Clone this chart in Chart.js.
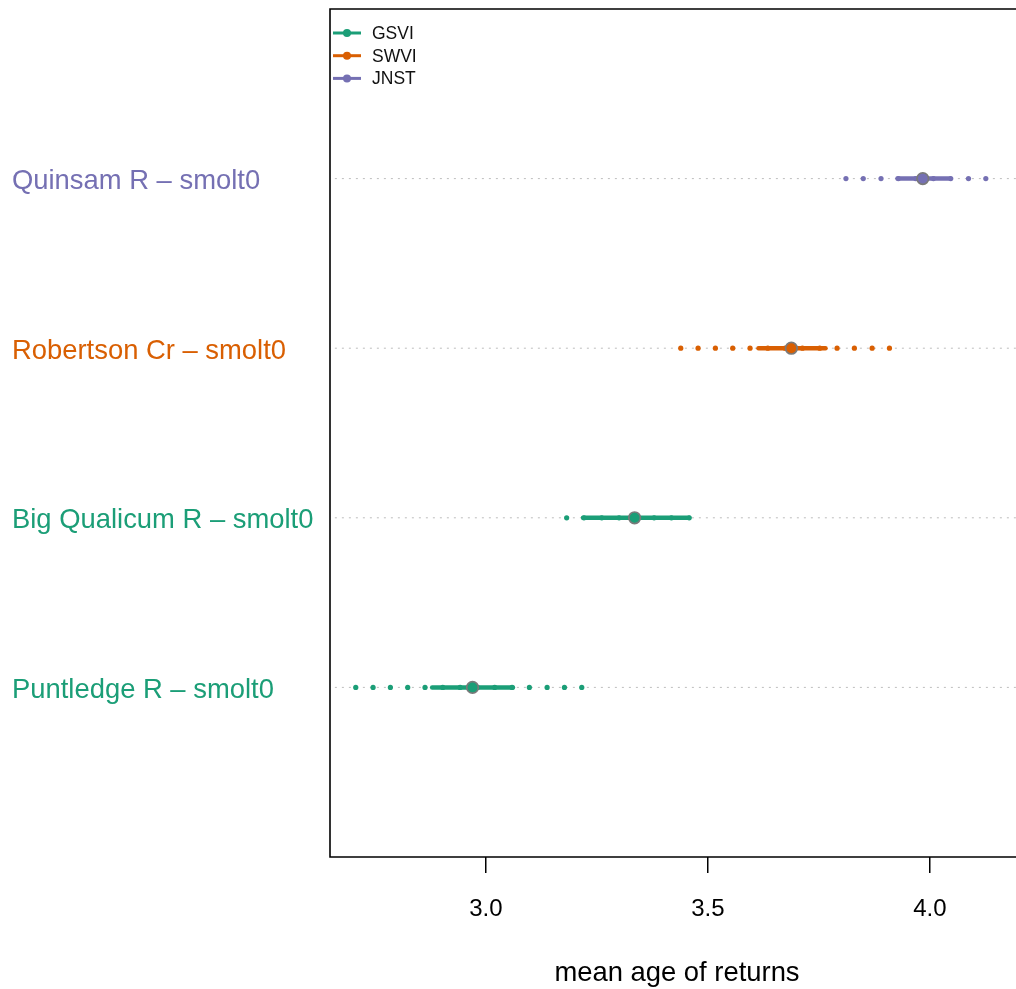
<!DOCTYPE html>
<html><head><meta charset="utf-8">
<script src="https://cdn.jsdelivr.net/npm/chart.js@4.4.1/dist/chart.umd.min.js"></script>
<style>html,body{margin:0;padding:0;background:#fff;overflow:hidden}#wrap{width:1016px;height:989px;position:relative;overflow:hidden}canvas{display:block}</style>
</head><body><div id="wrap"><canvas id="c" width="1024" height="989"></canvas></div>
<script>
// ---- data ----
const categories = ["Puntledge R \u2013 smolt0", "Big Qualicum R \u2013 smolt0", "Robertson Cr \u2013 smolt0", "Quinsam R \u2013 smolt0"];
const categoryRegion = ["GSVI", "GSVI", "SWVI", "JNST"];
const regionNames = ["GSVI", "SWVI", "JNST"];
const regionColors = ["#1B9E77", "#D95F02", "#7570B3"];
const meanAge = [2.970, 3.335, 3.688, 3.984];
const intervalLow = [2.879, 3.219, 3.614, 3.927];
const intervalHigh = [3.061, 3.458, 3.765, 4.045];
const quantilesPuntledge = [2.707, 2.746, 2.785, 2.824, 2.863, 2.903, 2.942, 2.981, 3.020, 3.059, 3.098, 3.138, 3.177, 3.216];
const quantilesBigQualicum = [3.182, 3.221, 3.261, 3.300, 3.339, 3.379, 3.418, 3.458];
const quantilesRobertson = [3.439, 3.478, 3.517, 3.556, 3.595, 3.635, 3.674, 3.713, 3.752, 3.791, 3.830, 3.870, 3.909];
const quantilesQuinsam = [3.811, 3.850, 3.890, 3.929, 3.968, 4.008, 4.047, 4.087, 4.126];
const xTicks = [3.0, 3.5, 4.0];
const xMin = 2.649, xMax = 4.212;
const guideStart = 2.66;
const xTitle = "mean age of returns";

const quantiles = [quantilesPuntledge, quantilesBigQualicum, quantilesRobertson, quantilesQuinsam];
const FAMILY = "'Liberation Sans', Arial, Helvetica, sans-serif";
const colorOf = i => regionColors[regionNames.indexOf(categoryRegion[i])];

const datasets = [];
categories.forEach((cat, i) => {
  const row = i + 1;
  const col = colorOf(i);
  datasets.push({ label: cat + " guide", data: [{x: guideStart, y: row}, {x: xMax, y: row}], showLine: true,
    borderColor: "#bdbdbd", borderWidth: 1, borderDash: [2, 5], pointRadius: 0, order: 10 });
  datasets.push({ label: cat + " quantiles", data: quantiles[i].map(v => ({x: v, y: row})),
    pointRadius: 2.6, backgroundColor: col, borderWidth: 0, order: 3 });
  datasets.push({ label: cat + " interval", data: [{x: intervalLow[i], y: row}, {x: intervalHigh[i], y: row}], showLine: true,
    borderColor: col, borderWidth: 4.5, borderCapStyle: "round", pointRadius: 0, order: 2 });
  datasets.push({ label: cat + " mean", data: [{x: meanAge[i], y: row}],
    pointRadius: 5.8, backgroundColor: col, borderColor: "#7a7a7a", borderWidth: 1.7, order: 1 });
});

const boxPlugin = {
  id: "box",
  afterDraw(chart) {
    const {ctx, chartArea: a} = chart;
    ctx.save();
    ctx.strokeStyle = "#000"; ctx.lineWidth = 1.6;
    ctx.beginPath();
    ctx.moveTo(a.right + 2, a.top); ctx.lineTo(a.left, a.top); ctx.lineTo(a.left, a.bottom); ctx.lineTo(a.right + 2, a.bottom);
    ctx.stroke();
    ctx.restore();
  }
};

const legendPlugin = {
  id: "insetLegend",
  afterDraw(chart) {
    const {ctx, chartArea: a} = chart;
    regionNames.forEach((name, i) => {
      const y = a.top + 24 + i * 22.7;
      const x0 = a.left + 3;
      ctx.save();
      ctx.strokeStyle = regionColors[i]; ctx.lineWidth = 3; ctx.lineCap = "butt";
      ctx.beginPath(); ctx.moveTo(x0, y); ctx.lineTo(x0 + 28, y); ctx.stroke();
      ctx.fillStyle = regionColors[i];
      ctx.beginPath(); ctx.arc(x0 + 14, y, 4, 0, Math.PI * 2); ctx.fill();
      ctx.fillStyle = "#111"; ctx.font = "17.5px " + FAMILY; ctx.textBaseline = "middle"; ctx.textAlign = "left";
      ctx.fillText(name, x0 + 39, y + 1);
      ctx.restore();
    });
  }
};

const zeroPad = s => { s.paddingTop = 0; s.paddingBottom = 0; s.paddingLeft = 0; s.paddingRight = 0; };

new Chart(document.getElementById("c"), {
  type: "scatter",
  data: { datasets },
  options: {
    responsive: false, animation: false, devicePixelRatio: 1,
    layout: { autoPadding: false, padding: { left: 12, top: 9, right: 0, bottom: 0 } },
    plugins: { legend: { display: false }, tooltip: { enabled: false } },
    scales: {
      x: {
        type: "linear", min: xMin, max: xMax,
        afterBuildTicks: s => { s.ticks = xTicks.map(v => ({ value: v })); },
        afterFit: s => { s.height = 132; zeroPad(s); },
        ticks: { callback: v => Number(v).toFixed(1), color: "#000", font: { size: 24, family: FAMILY }, padding: 22, maxRotation: 0, autoSkip: false },
        grid: { drawOnChartArea: false, drawTicks: true, tickLength: 16, color: "#000", tickColor: "#000", lineWidth: 1.5 },
        border: { display: false },
        title: { display: true, text: xTitle, color: "#000", font: { size: 27.4, family: FAMILY }, padding: { top: 0, bottom: -1 } }
      },
      y: {
        type: "linear", min: 0, max: 5,
        afterBuildTicks: s => { s.ticks = categories.map((c, i) => ({ value: i + 1 })); },
        afterFit: s => { s.width = 318; zeroPad(s); },
        ticks: { callback: v => categories[Math.round(v) - 1], color: ctx => colorOf(ctx.index), font: { size: 27.4, family: FAMILY }, crossAlign: "far", autoSkip: false, labelOffset: 3 },
        grid: { display: false },
        border: { display: false }
      }
    }
  },
  plugins: [boxPlugin, legendPlugin]
});
</script>
</body></html>
